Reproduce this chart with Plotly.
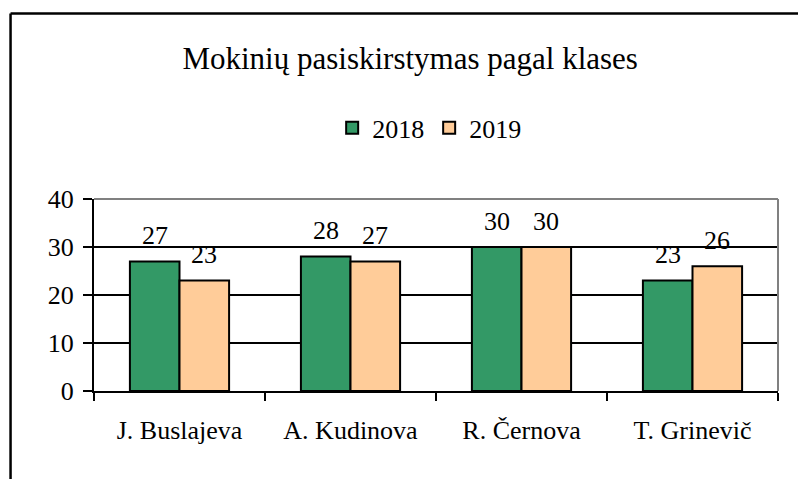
import plotly.graph_objects as go

categories = ["J. Buslajeva", "A. Kudinova", "R. Černova", "T. Grinevič"]
values_2018 = [27, 28, 30, 23]
values_2019 = [23, 27, 30, 26]
series_names = ["2018", "2019"]
title_text = "Mokinių pasiskirstymas pagal klases"

FONT = "Liberation Serif"
GREEN = "#339966"
PEACH = "#FFCC99"
BARGAP = 0.42

fig = go.Figure()
for name, vals, col in [(series_names[0], values_2018, GREEN), (series_names[1], values_2019, PEACH)]:
    fig.add_trace(go.Bar(
        x=categories, y=vals, name=name,
        marker=dict(color=col, line=dict(color="black", width=2)),
    ))

# data labels
half = (1 - BARGAP) / 4
annotations = []
for sign, vals in [(-1, values_2018), (1, values_2019)]:
    for i, v in enumerate(vals):
        annotations.append(dict(
            x=i + sign * half, y=v, xref="x", yref="y", text=str(v),
            showarrow=False, yanchor="middle", yshift=26,
            font=dict(family=FONT, size=26, color="black"),
        ))

# plot-area grey border (top/right) and outer chart frame
shapes = [
    dict(type="line", xref="paper", yref="paper", x0=0, x1=1, y0=1, y1=1,
         line=dict(color="#808080", width=2), layer="above"),
    dict(type="line", xref="paper", yref="paper", x0=1, x1=1, y0=0, y1=1,
         line=dict(color="#808080", width=2), layer="above"),
    dict(type="line", xref="paper", yref="paper", x0=-0.122, x1=1.04, y0=1.966, y1=1.966,
         line=dict(color="black", width=2.5)),
    dict(type="line", xref="paper", yref="paper", x0=-0.122, x1=-0.122, y0=1.966, y1=-0.5,
         line=dict(color="black", width=2.5)),
]

fig.update_layout(
    width=798, height=479,
    margin=dict(l=94, r=20, t=199, b=88),
    paper_bgcolor="white", plot_bgcolor="white",
    font=dict(family=FONT, size=26, color="black"),
    title=dict(text=title_text, x=0.514, xref="container", xanchor="center",
               y=0.878, yref="container", yanchor="middle",
               font=dict(family=FONT, size=31, color="black")),
    barmode="group", bargap=BARGAP, bargroupgap=0,
    showlegend=True,
    legend=dict(orientation="h", x=0.49, y=1.37, xanchor="center", yanchor="middle",
                font=dict(family=FONT, size=26), itemwidth=30, tracegroupgap=0,
                bgcolor="rgba(0,0,0,0)"),
    xaxis=dict(showline=True, linecolor="black", linewidth=2, ticks="outside",
               tickson="boundaries", ticklen=8, tickwidth=2, tickcolor="black",
               showgrid=False, ticklabelstandoff=15,
               tickfont=dict(family=FONT, size=26)),
    yaxis=dict(range=[0, 40], dtick=10, showline=True, linecolor="black", linewidth=2,
               ticks="outside", ticklen=9, tickwidth=2, tickcolor="black",
               showgrid=True, gridcolor="black", gridwidth=2, zeroline=False,
               ticklabelstandoff=4, tickfont=dict(family=FONT, size=26)),
    annotations=annotations,
    shapes=shapes,
)

fig.write_html("out.html", config={"displayModeBar": False},
               post_script="document.body.style.margin='0';")
